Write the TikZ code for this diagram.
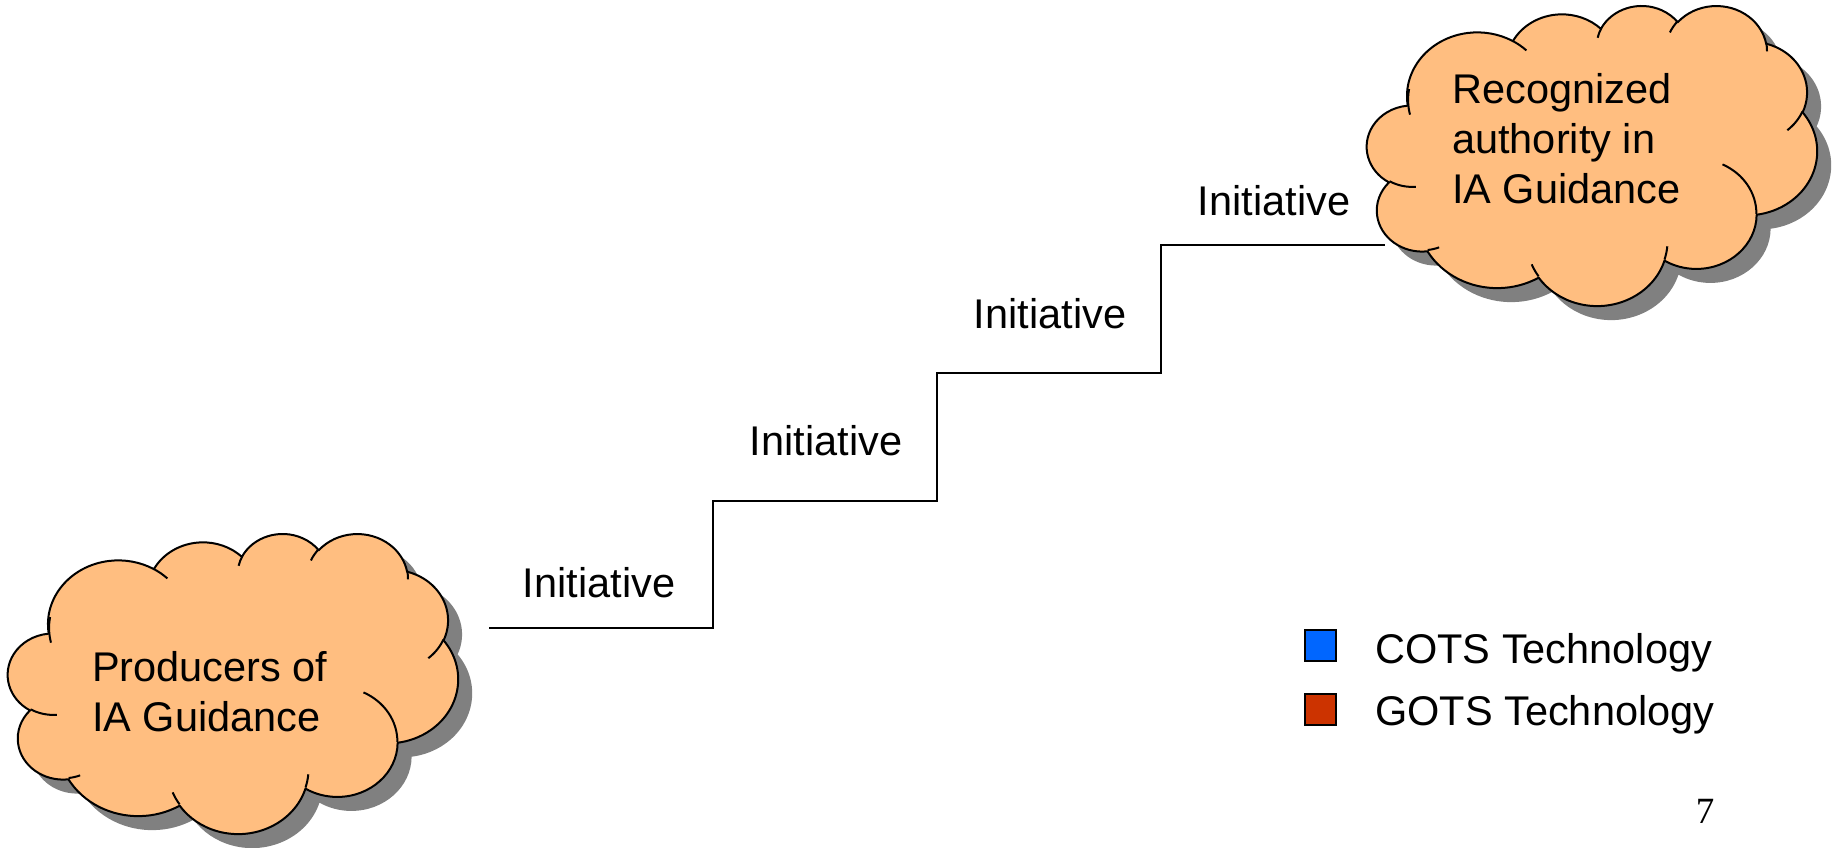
\documentclass[tikz,border=0pt]{standalone}
\usepackage{fontspec}
\setmainfont{Liberation Sans}
\newfontfamily\pagenumfont{Liberation Serif}
\definecolor{cloudfill}{RGB}{255,190,128}
\definecolor{shadowgray}{RGB}{128,128,128}
\definecolor{cotsblue}{RGB}{0,102,255}
\definecolor{gotsred}{RGB}{204,51,0}

% arc of an OOXML-style cloud: name, wR, hR, start (visual deg), sweep (deg)
\newcommand\defcloudarc[5]{%
  \pgfmathsetmacro\cldts{atan2(#2*sin(#4),#3*cos(#4))}%
  \pgfmathsetmacro\cldte{atan2(#2*sin(#4+#5),#3*cos(#4+#5))}%
  \pgfmathsetmacro\cldte{(\cldte<\cldts) ? \cldte+360 : \cldte}%
  \expandafter\xdef\csname cldarc#1\endcsname{arc[start angle=\cldts, end angle=\cldte, x radius=#2, y radius=#3]}%
}
\defcloudarc{A}{67.53}{91.90}{-190.4875}{123.7805}
\defcloudarc{B}{53.33}{72.67}{-144.1024}{89.9452}
\defcloudarc{C}{43.65}{59.45}{-145.8079}{99.7230}
\defcloudarc{D}{48.57}{65.95}{-130.9861}{117.2417}
\defcloudarc{E}{53.33}{72.73}{-78.7089}{109.0269}
\defcloudarc{F}{67.75}{92.20}{-46.2673}{130.2690}
\defcloudarc{G}{57.85}{78.67}{0.6250}{114.0333}
\defcloudarc{H}{67.52}{92.15}{22.4516}{115.1726}
\defcloudarc{I}{77.20}{105.43}{66.2426}{75.7110}
\defcloudarc{J}{43.60}{59.18}{-274.9421}{146.7356}
\defcloudarc{K}{43.45}{59.45}{-246.8285}{152.5189}
\defcloudarc{iA}{43.45}{59.45}{86.7420}{26.4295}
\defcloudarc{iB}{43.60}{59.18}{73.6105}{11.4475}
\defcloudarc{iC}{67.52}{92.15}{137.6242}{14.0811}
\defcloudarc{iD}{67.52}{92.15}{6.4533}{15.9984}
\defcloudarc{iE}{57.85}{78.67}{-70.2924}{70.9174}
\defcloudarc{iF}{53.33}{72.73}{30.3180}{27.7515}
\defcloudarc{iG}{48.57}{65.95}{-13.7443}{14.8589}
\defcloudarc{iH}{48.57}{65.95}{-149.1815}{18.1954}
\defcloudarc{iI}{43.65}{59.45}{-163.4943}{17.6864}
\defcloudarc{iJ}{67.53}{91.90}{-66.7070}{12.3194}
\defcloudarc{iK}{67.53}{91.90}{162.0476}{31.0487}

\newcommand\cloudoutline{(39.00,143.70) \cldarcA \cldarcB \cldarcC \cldarcD \cldarcE \cldarcF \cldarcG \cldarcH \cldarcI \cldarcJ \cldarcK -- cycle}
\newcommand\cloudinner{(46.93,261.77) \cldarciA (69.28,348.99) \cldarciB (164.78,390.90) \cldarciC (288.27,347.51) \cldarciD (341.29,229.54) \cldarciE (417.98,153.54) \cldarciF (383.24,54.26) \cldarciG (290.78,39.52) \cldarciH (221.41,47.20) \cldarciI (140.00,51.92) \cldarciJ (41.27,157.89) \cldarciK}

\tikzset{
  cloudline/.style={draw=black, line width=2pt, line join=round},
  stairline/.style={draw=black, line width=2pt},
  bigtext/.style={font=\fontsize{41.5}{50}\selectfont, inner sep=0pt},
  steplabel/.style={bigtext, anchor=base},
  legendbox/.style={draw=black, line width=2pt, minimum size=31pt, inner sep=0pt},
}

\begin{document}
\begin{tikzpicture}[x=1pt, y=-1pt]
\useasboundingbox (0,0) rectangle (1841,848);

% ---- left cloud ----
\begin{scope}[shift={(22,547)}, x=1.04167pt, y=-0.69444pt]
  \fill[shadowgray] \cloudoutline;
\end{scope}
\begin{scope}[shift={(8,533)}, x=1.04167pt, y=-0.69444pt]
  \fill[cloudfill] \cloudoutline;
  \draw[cloudline] \cloudoutline;
  \draw[cloudline] \cloudinner;
\end{scope}

% ---- right cloud ----
\begin{scope}[shift={(1381,19)}, x=1.04167pt, y=-0.69444pt]
  \fill[shadowgray] \cloudoutline;
\end{scope}
\begin{scope}[shift={(1367,5)}, x=1.04167pt, y=-0.69444pt]
  \fill[cloudfill] \cloudoutline;
  \draw[cloudline] \cloudoutline;
  \draw[cloudline] \cloudinner;
\end{scope}

% ---- cloud texts ----
\node[bigtext, anchor=base west, align=left] (producers) at (92,731) {Producers of\\IA Guidance};
\node[bigtext, anchor=base west, align=left] (authority) at (1452,203) {Recognized\\authority in\\IA Guidance};

% ---- staircase ----
\coordinate (s0) at (489,628);
\coordinate (s1) at (713,628);
\coordinate (s2) at (713,501);
\coordinate (s3) at (937,501);
\coordinate (s4) at (937,373);
\coordinate (s5) at (1161,373);
\coordinate (s6) at (1161,245);
\coordinate (s7) at (1385,245);
\draw[stairline] (s0) -- (s1) -- (s2) -- (s3) -- (s4) -- (s5) -- (s6) -- (s7);

\node[steplabel] (init1) at (599,597) {Initiative};
\node[steplabel] (init2) at (826,455) {Initiative};
\node[steplabel] (init3) at (1050,328) {Initiative};
\node[steplabel] (init4) at (1274,215) {Initiative};

% ---- legend ----
\node[legendbox, fill=cotsblue] (cotsbox) at (1320.5,645.5) {};
\node[legendbox, fill=gotsred] (gotsbox) at (1320.5,709.5) {};
\node[bigtext, anchor=base west] (cotstext) at (1375,663) {COTS Technology};
\node[bigtext, anchor=base west] (gotstext) at (1375,725) {GOTS Technology};

% ---- page number ----
\node[font=\pagenumfont\fontsize{37}{44}\selectfont, inner sep=0pt, anchor=base] (pagenum) at (1705,823) {7};
\end{tikzpicture}
\end{document}
